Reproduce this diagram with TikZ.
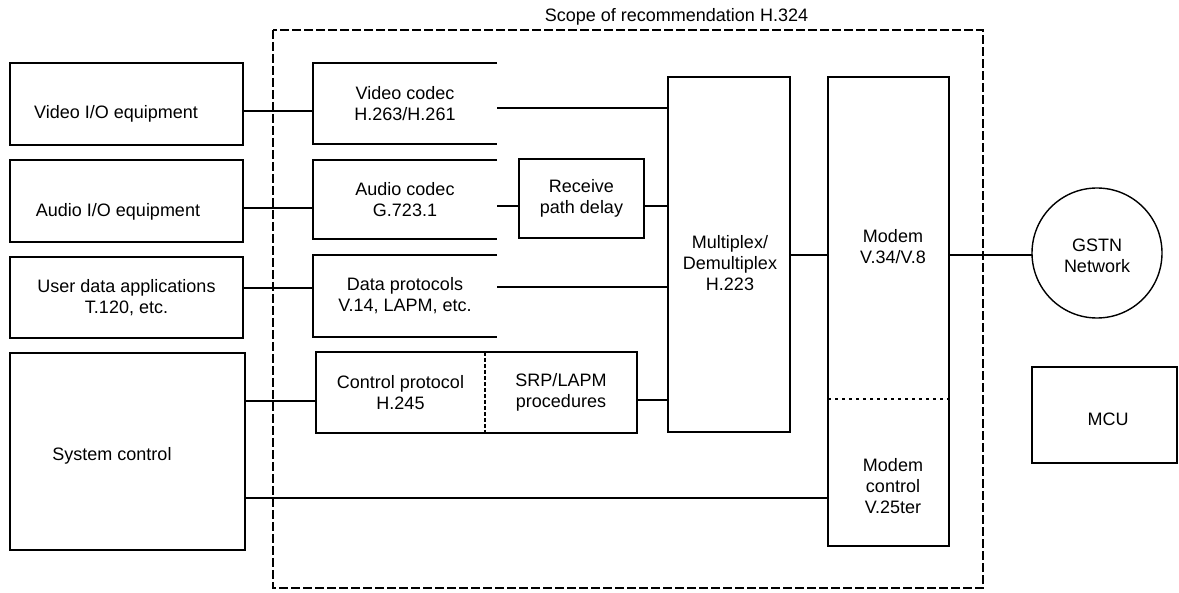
\documentclass[tikz,border=0pt]{standalone}
\usepackage{fontspec}
\setmainfont{Liberation Sans}
\begin{document}
\begin{tikzpicture}[x=1pt,y=-1pt,
  font=\fontsize{18}{21}\selectfont,
  every node/.style={inner sep=0pt,outer sep=0pt},
  box/.style={draw,line width=1.6pt,rectangle},
  shell/.style={rectangle},
  txt/.style={align=center},
  wire/.style={line width=1.6pt},
  scopeline/.style={line width=1.3pt,dash pattern=on 9pt off 3pt}]
\useasboundingbox (0,0) rectangle (1179,593);

% scope
\node[shell,minimum width=710pt,minimum height=558pt] (scope) at (628,309) {};
\draw[scopeline] (scope.north west) rectangle (scope.south east);
\node[txt,anchor=base] (title) at (676.5,22) {Scope of recommendation H.324};

% left boxes
\node[box,minimum width=233pt,minimum height=82pt] (vio) at (126.5,104) {};
\node[txt] (viot) at (116,114) {Video I/O equipment};
\node[box,minimum width=233pt,minimum height=82pt] (aio) at (126.5,201) {};
\node[txt] (aiot) at (118,212) {Audio I/O equipment};
\node[box,minimum width=233pt,minimum height=81pt,align=center] (uda) at (126.5,297.5) {User data applications\\T.120, etc.};
\node[box,minimum width=235pt,minimum height=197pt] (sys) at (127.5,451.5) {};
\node[txt] (syst) at (112,456) {System control};

% middle column (open on the right)
\node[shell,minimum width=184pt,minimum height=81pt,align=center] (vc) at (405,103.5) {Video codec\\H.263/H.261};
\node[shell,minimum width=184pt,minimum height=79pt,align=center] (ac) at (405,199.5) {Audio codec\\G.723.1};
\node[shell,minimum width=184pt,minimum height=82pt,align=center] (dp) at (405,296) {Data protocols\\V.14, LAPM, etc.};
\foreach \n in {vc,ac,dp}
  \draw[wire] (\n.north east) -- (\n.north west) -- (\n.south west) -- (\n.south east);

\node[box,minimum width=125pt,minimum height=79pt,align=center] (rpd) at (581.5,198.5) {Receive\\path delay};

\node[shell,minimum width=169pt,minimum height=81pt,align=center] (cpl) at (400.5,392.5) {Control protocol\\H.245};
\node[shell,minimum width=152pt,minimum height=81pt,align=center] (cpr) at (561,392.5) {SRP/LAPM\\procedures};
\draw[wire] (cpl.north east) -- (cpl.north west) -- (cpl.south west) -- (cpl.south east);
\draw[wire] (cpr.north west) -- (cpr.north east) -- (cpr.south east) -- (cpr.south west);
\draw[line width=1.2pt,dash pattern=on 4pt off 2pt] (cpl.north east) -- (cpl.south east);

% multiplex
\node[box,minimum width=122pt,minimum height=355pt] (mux) at (729,254.5) {};
\node[txt] (muxt) at (730,263) {Multiplex/\\Demultiplex\\H.223};

% modem
\node[shell,minimum width=121pt,minimum height=322pt] (mdm) at (888.5,238) {};
\node[shell,minimum width=121pt,minimum height=147pt] (mctl) at (888.5,472.5) {};
\draw[wire] (mdm.south west) -- (mdm.north west) -- (mdm.north east) -- (mdm.south east);
\draw[wire] (mctl.north west) -- (mctl.south west) -- (mctl.south east) -- (mctl.north east);
\draw[line width=1.6pt,dash pattern=on 3pt off 4pt] (mdm.south west) -- (mdm.south east);
\node[txt] (mdmt) at (893,247) {Modem\\V.34/V.8};
\node[txt] (mctlt) at (893,486) {Modem\\control\\V.25ter};

% GSTN and MCU
\node[draw,circle,line width=1.4pt,minimum size=130pt,align=center] (gstn) at (1097,253) {};
\node[txt] (gstnt) at (1097,256) {GSTN\\Network};
\node[box,minimum width=145pt,minimum height=96pt] (mcu) at (1104.5,415) {};
\node[txt] (mcut) at (1108,419) {MCU};

% connectors
\draw[wire] (vio.east |- 0,111) -- (vc.west |- 0,111);
\draw[wire] (aio.east |- 0,208) -- (ac.west |- 0,208);
\draw[wire] (uda.east |- 0,288) -- (dp.west |- 0,288);
\draw[wire] (sys.east |- 0,401) -- (cpl.west |- 0,401);
\draw[wire] (sys.east |- 0,498) -- (mctl.west |- 0,498);

\draw[wire] (vc.east |- 0,108) -- (mux.west |- 0,108);
\draw[wire] (ac.east |- 0,206) -- (rpd.west |- 0,206);
\draw[wire] (rpd.east |- 0,206) -- (mux.west |- 0,206);
\draw[wire] (dp.east |- 0,287) -- (mux.west |- 0,287);
\draw[wire] (cpr.east |- 0,400) -- (mux.west |- 0,400);

\draw[wire] (mux.east |- 0,255) -- (mdm.west |- 0,255);
\draw[wire] (mdm.east |- 0,255) -- (gstn.west |- 0,255);
\end{tikzpicture}
\end{document}
